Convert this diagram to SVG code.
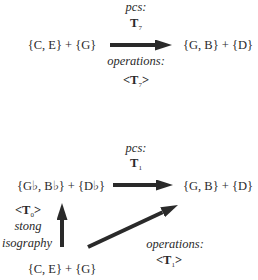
<svg xmlns="http://www.w3.org/2000/svg" width="258" height="280" viewBox="0 0 258 280">
<style>
.i{font-style:italic;}
.b{font-weight:bold;}
.m{text-anchor:middle;}
.sub{font-size:7px;font-weight:normal;}
.ln{stroke:#2a2a2a;stroke-width:4;fill:none;}
</style>
<defs>
<marker id="ah" markerUnits="userSpaceOnUse" markerWidth="17" markerHeight="11" refX="0" refY="5.5" orient="auto">
<path d="M0,0 L17,5.5 L0,11 Z" fill="#2a2a2a"/>
</marker>
</defs>
<rect width="258" height="280" fill="#fff"/>
<g id="connectors">
<line class="ln" x1="110" y1="45" x2="155" y2="45" marker-end="url(#ah)"/>
<line class="ln" x1="113" y1="185" x2="156" y2="185" marker-end="url(#ah)"/>
<line class="ln" x1="62" y1="247" x2="62" y2="220" marker-end="url(#ah)"/>
<line class="ln" x1="88" y1="247" x2="162.6" y2="212.2" marker-end="url(#ah)"/>
</g>
<g font-family="Liberation Serif" font-size="12.5" fill="#2a2a2a">
<g id="n1"><text x="62" y="49" class="m">{C, E} + {G}</text></g>
<g id="n2"><text x="218" y="49" class="m">{G, B} + {D}</text></g>
<g id="l1">
<text x="136" y="11" class="m i">pcs:</text>
<text x="136" y="27" class="m b">T<tspan class="sub" dy="3">7</tspan></text>
<text x="136" y="65" class="m i">operations:</text>
<text x="136" y="84" class="m b">&lt;T<tspan class="sub" dy="3">7</tspan><tspan dy="-3">&gt;</tspan></text>
</g>
<g id="n3"><text x="61" y="190" class="m">{G♭, B♭} + {D♭}</text></g>
<g id="n4"><text x="218" y="190" class="m">{G, B} + {D}</text></g>
<g id="n5"><text x="62" y="273" class="m">{C, E} + {G}</text></g>
<g id="l2">
<text x="136" y="152" class="m i">pcs:</text>
<text x="136" y="167" class="m b">T<tspan class="sub" dy="3">1</tspan></text>
</g>
<g id="l3">
<text x="28" y="214" class="m b">&lt;T<tspan class="sub" dy="3">0</tspan><tspan dy="-3">&gt;</tspan></text>
<text x="28" y="230" class="m i">stong</text>
<text x="27" y="247" class="m i">isography</text>
</g>
<g id="l4">
<text x="175" y="248" class="m i">operations:</text>
<text x="169" y="264" class="m b">&lt;T<tspan class="sub" dy="3">1</tspan><tspan dy="-3">&gt;</tspan></text>
</g>
</g>
</svg>
